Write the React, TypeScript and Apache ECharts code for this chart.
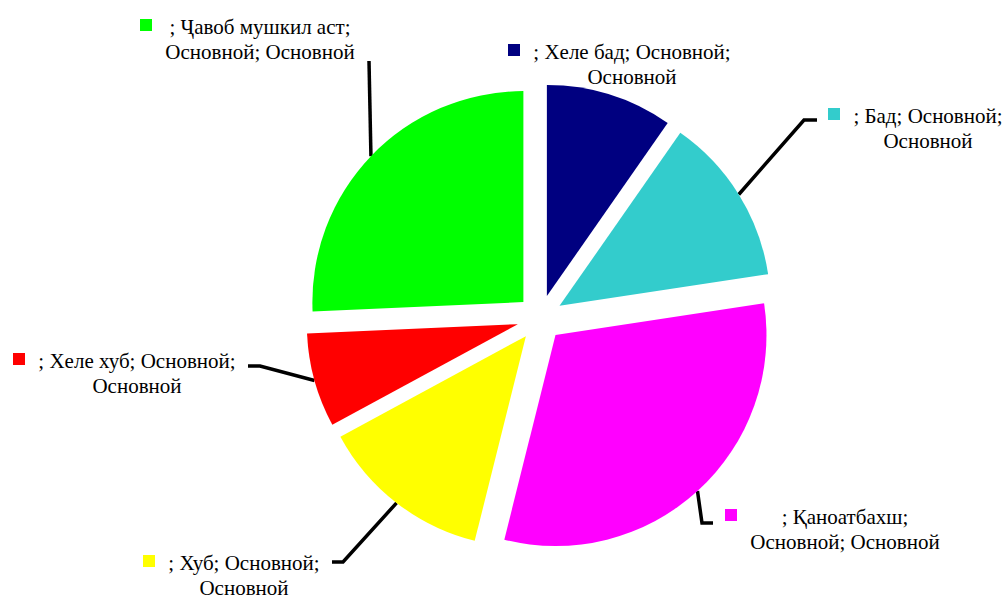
import React, { useEffect, useRef } from 'react';
import * as echarts from 'echarts';

// ---- data ----
const categories = ['Хеле бад', 'Бад', 'Қаноатбахш', 'Хуб', 'Хеле хуб', 'Ҷавоб мушкил аст'];
const values = [9.7, 12.9, 31.3, 13.2, 7.2, 25.7];
const colors = ['#000080', '#33CCCC', '#FF00FF', '#FFFF00', '#FF0000', '#00FF00'];
const seriesName = 'Основной';
// how many trailing "Основной" words go onto the second label line
const secondLineWords = [1, 1, 2, 1, 1, 2];

// ---- layout (label placement, not data) ----
const CENTER = [540, 318];
const RADIUS = 211;
const EXPLODE = 23;
const FONT = '"Liberation Serif", serif';
const FONT_SIZE = 21;
const LABELS: { x: number; y: number; elbow: number[] | null; end: number[] | null }[] = [
  { x: 508, y: 44, elbow: null, end: null },
  { x: 828, y: 108, elbow: [804, 120], end: [817, 120] },
  { x: 725, y: 509, elbow: [702, 523], end: [713, 523] },
  { x: 143, y: 555, elbow: [343, 562], end: [332, 562] },
  { x: 13, y: 353, elbow: [260, 366], end: [248, 366] },
  { x: 140, y: 19, elbow: [369, 61], end: [369, 61] },
];

function labelLines(i: number): [string, string] {
  const words = [`; ${categories[i]};`, `${seriesName};`, seriesName];
  const n = secondLineWords[i];
  const first = words.slice(0, 3 - n).join(' ');
  const second = words.slice(3 - n).join(' ');
  return [first, second];
}

function measure(text: string): number {
  const c = document.createElement('canvas').getContext('2d');
  if (!c) return text.length * 9;
  c.font = `${FONT_SIZE}px ${FONT}`;
  return c.measureText(text).width;
}

export default function App() {
  const ref = useRef<HTMLDivElement>(null);
  useEffect(() => {
    if (!ref.current) return;
    const chart = echarts.init(ref.current, undefined, { renderer: 'svg' });
    const total = values.reduce((a, b) => a + b, 0);
    let acc = 0;
    const series: any[] = values.map((v, k) => {
      const mid = ((acc + v / 2) / total) * 2 * Math.PI;
      acc += v;
      const cx = CENTER[0] + EXPLODE * Math.sin(mid);
      const cy = CENTER[1] - EXPLODE * Math.cos(mid);
      const [l1, l2] = labelLines(k);
      const W = Math.ceil(Math.max(measure(l1), measure(l2))) + 2;
      const rich: any = {
        sq: { width: 12, height: 12, backgroundColor: colors[k], verticalAlign: 'top' },
        g: { width: 12, height: 12 },
        p: { width: 24, height: 12 },
        t1: { width: W, align: 'center', lineHeight: 16, fontSize: FONT_SIZE, fontFamily: FONT, color: '#000' },
        t2: { width: W, align: 'center', lineHeight: 34, fontSize: FONT_SIZE, fontFamily: FONT, color: '#000' },
      };
      return {
        type: 'pie',
        name: seriesName,
        center: [cx, cy],
        radius: RADIUS,
        startAngle: 90,
        clockwise: true,
        avoidLabelOverlap: false,
        silent: true,
        emphasis: { disabled: true },
        itemStyle: { borderWidth: 0 },
        data: categories.map((c, i) => ({
          name: c,
          value: values[i],
          itemStyle: { color: i === k ? colors[i] : 'rgba(0,0,0,0)', borderWidth: 0 },
          label: {
            show: i === k,
            position: 'outside',
            formatter: `{sq|}{g|}{t1|${l1}}\n{p|}{t2|${l2}}`,
            rich,
            align: 'left',
          },
          labelLine: {
            show: i === k && LABELS[i].elbow != null,
            length: 10,
            length2: 10,
            smooth: false,
            lineStyle: { color: '#000', width: 3.5 },
          },
        })),
        labelLayout: (params: any) => {
          if (params.dataIndex !== k) return {};
          const p = LABELS[k];
          const res: any = { x: p.x, y: p.y, align: 'left', verticalAlign: 'top' };
          if (p.elbow && p.end && params.labelLinePoints && params.labelLinePoints[0]) {
            res.labelLinePoints = [params.labelLinePoints[0], p.elbow, p.end];
          }
          return res;
        },
      };
    });
    chart.setOption({
      animation: false,
      backgroundColor: '#fff',
      series,
    });
    return () => chart.dispose();
  }, []);
  return (
    <div
      ref={ref}
      style={{ position: 'absolute', left: 0, top: 0, width: 1005, height: 596 }}
    />
  );
}
